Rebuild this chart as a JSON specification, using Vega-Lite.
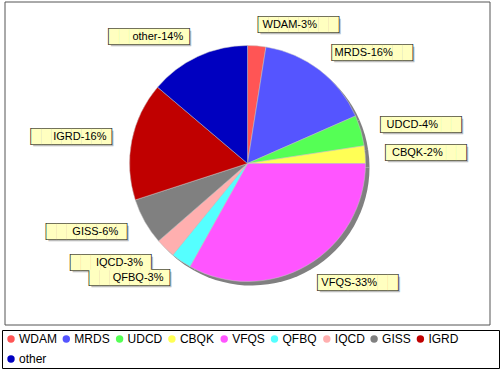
{
  "$schema": "https://vega.github.io/schema/vega-lite/v6.json",
  "autosize": {"type": "none"},
  "width": 485,
  "height": 323,
  "padding": {"left": 5, "top": 2, "right": 10, "bottom": 45},
  "background": "white",
  "config": {"view": {"stroke": null}},
  "data": {
    "values": [
      {"cat": "WDAM", "value": 2.5, "label": "WDAM-3%"},
      {"cat": "MRDS", "value": 15.9, "label": "MRDS-16%"},
      {"cat": "UDCD", "value": 4.2, "label": "UDCD-4%"},
      {"cat": "CBQK", "value": 2.4, "label": "CBQK-2%"},
      {"cat": "VFQS", "value": 33.1, "label": "VFQS-33%"},
      {"cat": "QFBQ", "value": 2.8, "label": "QFBQ-3%"},
      {"cat": "IQCD", "value": 2.7, "label": "IQCD-3%"},
      {"cat": "GISS", "value": 6.4, "label": "GISS-6%"},
      {"cat": "IGRD", "value": 16.2, "label": "IGRD-16%"},
      {"cat": "other", "value": 13.8, "label": "other-14%"}
    ]
  },
  "transform": [{"window": [{"op": "row_number", "as": "idx"}]}],
  "layer": [
    {
      "data": {"values": [{"frame": "plot"}]},
      "transform": [],
      "mark": {"type": "rect", "fill": null, "stroke": "#555555", "strokeWidth": 1, "x": 0, "y": 0, "x2": {"expr": "width"}, "y2": {"expr": "height"}},
      "encoding": {}
    },
    {
      "mark": {"type": "arc", "outerRadius": 118, "fill": "#808080", "xOffset": 4, "yOffset": 4},
      "encoding": {
        "theta": {"field": "value", "type": "quantitative", "stack": true},
        "order": {"field": "idx", "type": "quantitative"},
        "detail": {"field": "cat", "type": "nominal"}
      }
    },
    {
      "mark": {"type": "arc", "outerRadius": 118, "stroke": "#c8c8c8", "strokeWidth": 0.5},
      "encoding": {
        "theta": {"field": "value", "type": "quantitative", "stack": true},
        "order": {"field": "idx", "type": "quantitative"},
        "color": {
          "field": "cat",
          "type": "nominal",
          "sort": ["WDAM", "MRDS", "UDCD", "CBQK", "VFQS", "QFBQ", "IQCD", "GISS", "IGRD", "other"],
          "scale": {
            "domain": ["WDAM", "MRDS", "UDCD", "CBQK", "VFQS", "QFBQ", "IQCD", "GISS", "IGRD", "other"],
            "range": ["#FF5555", "#5555FF", "#55FF55", "#FFFF55", "#FF55FF", "#55FFFF", "#FFAFAF", "#808080", "#C00000", "#0000C0"]
          },
          "legend": {
            "orient": "none",
            "legendX": -3,
            "legendY": 328,
            "direction": "horizontal",
            "columns": 9,
            "gridAlign": "none",
            "title": "\u00a0",
            "titleOrient": "right",
            "titlePadding": 38,
            "titleFontSize": 12,
            "labelFont": "Liberation Sans",
            "labelFontSize": 12,
            "labelColor": "black",
            "labelOffset": 2,
            "symbolType": "circle",
            "symbolSize": 55,
            "symbolStrokeWidth": 0,
            "symbolOpacity": 1,
            "columnPadding": 3.3,
            "rowPadding": 8,
            "padding": 3,
            "strokeColor": "black"
          }
        }
      }
    },
    {
      "mark": {
        "type": "text", "radius": 139, "font": "DejaVu Sans", "fontSize": 13, "baseline": "middle",
        "align": {"expr": "indexof(['WDAM','MRDS','UDCD','CBQK','VFQS'], datum.cat) >= 0 ? 'left' : 'right'"},
        "dx": 2, "dy": 2, "fill": "#bbbbbb"
      },
      "encoding": {
        "theta": {"field": "value", "type": "quantitative", "stack": true},
        "order": {"field": "idx", "type": "quantitative"},
        "detail": {"field": "cat", "type": "nominal"},
        "text": {"value": "████████"}
      }
    },
    {
      "mark": {
        "type": "text", "radius": 139, "font": "DejaVu Sans", "fontSize": 13, "baseline": "middle",
        "align": {"expr": "indexof(['WDAM','MRDS','UDCD','CBQK','VFQS'], datum.cat) >= 0 ? 'left' : 'right'"},
        "fill": "#333333", "stroke": "#333333", "strokeWidth": 1.6
      },
      "encoding": {
        "theta": {"field": "value", "type": "quantitative", "stack": true},
        "order": {"field": "idx", "type": "quantitative"},
        "detail": {"field": "cat", "type": "nominal"},
        "text": {"value": "████████"}
      }
    },
    {
      "mark": {
        "type": "text", "radius": 139, "font": "DejaVu Sans", "fontSize": 13, "baseline": "middle",
        "align": {"expr": "indexof(['WDAM','MRDS','UDCD','CBQK','VFQS'], datum.cat) >= 0 ? 'left' : 'right'"},
        "fill": "#FFFFC0"
      },
      "encoding": {
        "theta": {"field": "value", "type": "quantitative", "stack": true},
        "order": {"field": "idx", "type": "quantitative"},
        "detail": {"field": "cat", "type": "nominal"},
        "text": {"value": "████████"}
      }
    },
    {
      "mark": {
        "type": "text", "radius": 139, "font": "Liberation Sans", "fontSize": 11, "baseline": "middle",
        "align": "center", "fill": "black",
        "dx": {"expr": "indexof(['WDAM','MRDS','UDCD','CBQK','VFQS'], datum.cat) >= 0 ? 31.3 : -31.3"}
      },
      "encoding": {
        "theta": {"field": "value", "type": "quantitative", "stack": true},
        "order": {"field": "idx", "type": "quantitative"},
        "detail": {"field": "cat", "type": "nominal"},
        "text": {"field": "label", "type": "nominal"}
      }
    }
  ]
}
